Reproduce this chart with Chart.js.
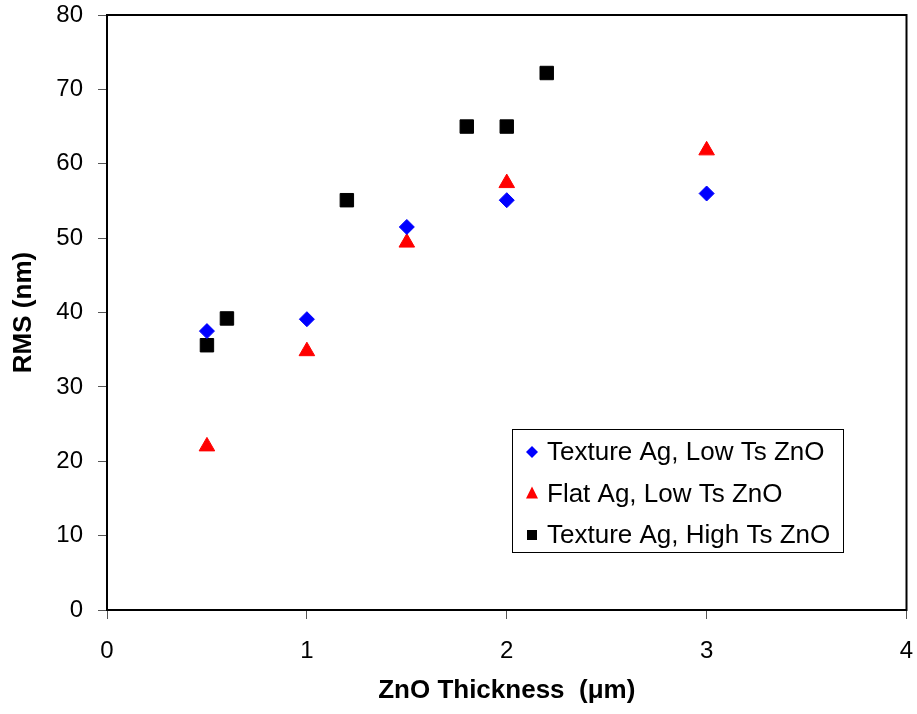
<!DOCTYPE html>
<html lang="en">
  <head>
    <meta charset="UTF-8" />
    <title>RMS vs ZnO Thickness</title>
    <style>
      html, body { margin: 0; padding: 0; background: #fff; }
      .container { width: 917px; height: 714px; }
    </style>
  </head>
  <body>
    <div class="container">
      <canvas id="myChart"></canvas>
    </div>
    <script src="https://cdn.jsdelivr.net/npm/chart.js@4/dist/chart.umd.min.js"></script>
    <script>
      // values
      const textureLowX = [0.5, 1.0, 1.5, 2.0, 3.0];
      const textureLowY = [37.5, 39.1, 51.5, 55.1, 56.0];
      const flatLowX = [0.5, 1.0, 1.5, 2.0, 3.0];
      const flatLowY = [22.0, 34.8, 49.4, 57.4, 61.8];
      const textureHighX = [0.5, 0.6, 1.2, 1.8, 2.0, 2.2];
      const textureHighY = [35.6, 39.2, 55.1, 65.0, 65.0, 72.2];
      const seriesNames = ['Texture Ag, Low Ts ZnO', 'Flat Ag, Low Ts ZnO', 'Texture Ag, High Ts ZnO'];

      const toPoints = (xs, ys) => xs.map((x, i) => ({ x: x, y: ys[i] }));
      const fontFamily = '"Liberation Sans", Arial, sans-serif';

      // legend box drawn inside the plot, plus the frame round the plot area
      const frameAndLegend = {
        id: 'frameAndLegend',
        afterDraw(chart) {
          const ctx = chart.ctx;
          const a = chart.chartArea;
          ctx.save();
          ctx.strokeStyle = '#000';
          ctx.lineWidth = 2;
          ctx.strokeRect(a.left, a.top, a.right - a.left, a.bottom - a.top);

          const bx = 512, by = 429, bw = 331, bh = 123;
          ctx.fillStyle = '#fff';
          ctx.fillRect(bx, by, bw, bh);
          ctx.lineWidth = 1;
          ctx.strokeStyle = '#000';
          ctx.strokeRect(bx + 0.5, by + 0.5, bw, bh);

          ctx.font = '26px ' + fontFamily;
          ctx.textBaseline = 'middle';
          ctx.textAlign = 'left';
          chart.data.datasets.forEach((ds, i) => {
            const cy = by + 23 + i * 41.5;
            const cx = bx + 20;
            ctx.fillStyle = ds.backgroundColor;
            ctx.beginPath();
            if (ds.pointStyle === 'rectRot') {
              ctx.moveTo(cx - 6, cy);
              ctx.lineTo(cx, cy - 6);
              ctx.lineTo(cx + 6, cy);
              ctx.lineTo(cx, cy + 6);
            } else if (ds.pointStyle === 'triangle') {
              ctx.moveTo(cx, cy - 7);
              ctx.lineTo(cx + 6, cy + 5);
              ctx.lineTo(cx - 6, cy + 5);
            } else {
              ctx.rect(cx - 5, cy - 5, 10, 10);
            }
            ctx.closePath();
            ctx.fill();
            ctx.fillStyle = '#000';
            ctx.fillText(ds.label, bx + 35, cy + 1);
          });
          ctx.restore();
        },
      };

      const data = {
        datasets: [
          {
            label: seriesNames[0],
            data: toPoints(textureLowX, textureLowY),
            pointStyle: 'rectRot',
            pointRadius: 7.5,
            backgroundColor: '#0000ff',
            borderColor: '#0000ff',
            borderWidth: 1,
          },
          {
            label: seriesNames[1],
            data: toPoints(flatLowX, flatLowY),
            pointStyle: 'triangle',
            pointRadius: 9,
            backgroundColor: '#ff0000',
            borderColor: '#ff0000',
            borderWidth: 1,
          },
          {
            label: seriesNames[2],
            data: toPoints(textureHighX, textureHighY),
            pointStyle: 'rect',
            pointRadius: 9.5,
            backgroundColor: '#000000',
            borderColor: '#000000',
            borderWidth: 1,
          },
        ],
      };

      const config = {
        type: 'scatter',
        data: data,
        options: {
          animation: false,
          responsive: true,
          maintainAspectRatio: false,
          layout: { padding: { top: 15, right: 7, left: 0, bottom: 0 } },
          plugins: {
            legend: { display: false },
            tooltip: { enabled: false },
          },
          scales: {
            x: {
              type: 'linear',
              min: 0,
              max: 4,
              ticks: { stepSize: 1, color: '#000', padding: 18, font: { family: fontFamily, size: 24 } },
              grid: { drawOnChartArea: false, drawTicks: true, tickLength: 9, color: '#555' },
              border: { display: true, color: '#000', width: 2 },
              title: {
                display: true,
                text: 'ZnO Thickness  (\u03bcm)',
                color: '#000',
                font: { family: fontFamily, size: 26, weight: 'bold' },
                padding: { top: 8, bottom: 8 },
              },
              afterFit(scale) {
                scale.height = 104;
                scale.paddingLeft = 0;
                scale.paddingRight = 0;
              },
            },
            y: {
              min: 0,
              max: 80,
              ticks: { stepSize: 10, color: '#000', padding: 15, font: { family: fontFamily, size: 24 } },
              grid: { drawOnChartArea: false, drawTicks: true, tickLength: 9, color: '#555' },
              border: { display: true, color: '#000', width: 2 },
              title: {
                display: true,
                text: 'RMS (nm)',
                color: '#000',
                font: { family: fontFamily, size: 26, weight: 'bold' },
                padding: { top: 8, bottom: 8 },
              },
              afterFit(scale) {
                scale.width = 107;
                scale.paddingTop = 0;
                scale.paddingBottom = 0;
              },
            },
          },
        },
        plugins: [frameAndLegend],
      };

      const myChart = new Chart(document.getElementById('myChart'), config);
    </script>
  </body>
</html>
